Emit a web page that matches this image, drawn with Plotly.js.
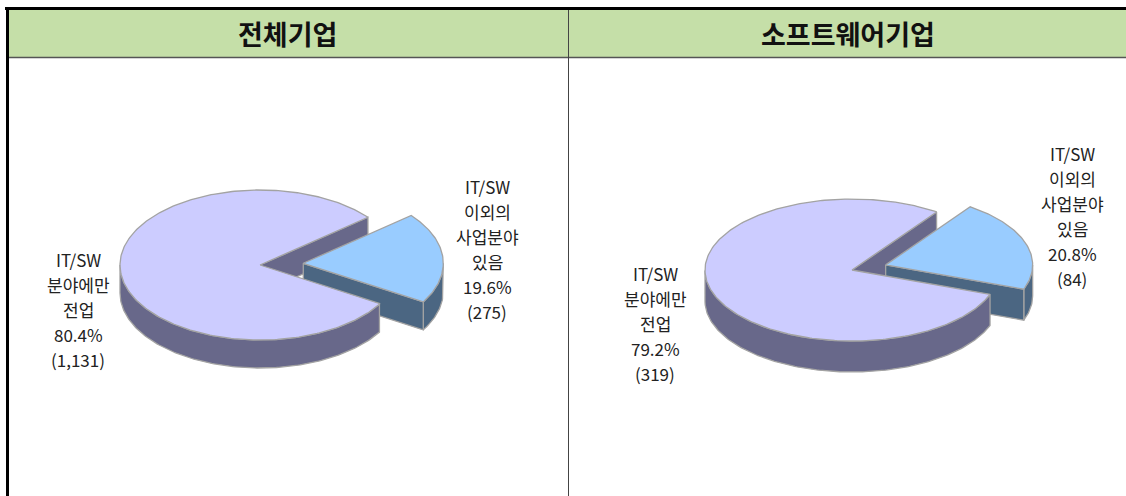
<!DOCTYPE html>
<html>
<head>
<meta charset="utf-8">
<script src="https://cdn.plot.ly/plotly-3.0.1.min.js"></script>
<style>html,body{margin:0;padding:0;background:#fff;}#chart{width:1126px;height:496px;}</style>
</head>
<body>
<div id="chart"></div>
<script>
// ---------- DATA ----------
const panelTitles = ["전체기업", "소프트웨어기업"];
const categories = ["IT/SW<br>분야에만<br>전업", "IT/SW<br>이외의<br>사업분야<br>있음"];
const totalPercents = [80.4, 19.6];
const totalCounts = ["1,131", "275"];
const swPercents = [79.2, 20.8];
const swCounts = ["319", "84"];

// ---------- STYLE / LAYOUT ----------
const W = 1126, H = 496;
const topColors = ["#ccccff", "#99ccff"];
const sideColors = ["#68688a", "#4b6682"];
const edgeColor = "#a3a3a3";
const labelFont = {family: "'Noto Sans CJK KR', 'Noto Sans', sans-serif", size: 17, color: "#222222"};

const pies = [
  {values: totalPercents, counts: totalCounts, cx: 260, cy: 265, rx: 140, ry: 75, depth: 28, start: -31, pull: 0.31,
   labelPos: [{x: 78, y: 259}, {x: 487, y: 186}], titleX: 287},
  {values: swPercents, counts: swCounts, cx: 852, cy: 270, rx: 147, ry: 71, depth: 31, start: -20, pull: 0.24,
   labelPos: [{x: 655, y: 273}, {x: 1072, y: 153}], titleX: 848}
];
const lineStep = 25;

const traces = [];
const annotations = [];
const rad = d => d * Math.PI / 180;

function pt(c, a, dy) { return [c.x + c.rx * Math.cos(rad(a)), c.y - c.ry * Math.sin(rad(a)) + (dy || 0)]; }
function poly(points, fill) {
  const xs = points.map(p => p[0]); const ys = points.map(p => p[1]);
  xs.push(xs[0]); ys.push(ys[0]);
  traces.push({type: "scatter", mode: "lines", x: xs, y: ys, fill: "toself", fillcolor: fill,
    line: {color: edgeColor, width: 1.3}, hoverinfo: "skip", showlegend: false});
}
function arcPts(c, a1, a2, dy) {
  const pts = []; const n = Math.max(2, Math.ceil(Math.abs(a2 - a1)));
  for (let i = 0; i <= n; i++) pts.push(pt(c, a1 + (a2 - a1) * i / n, dy));
  return pts;
}
function frontRuns(a1, a2) {
  const runs = []; let cur = null;
  for (let a = a1; a <= a2 + 1e-9; a += 0.5) {
    const front = Math.sin(rad(a)) <= 1e-9;
    if (front) { if (!cur) cur = [a, a]; else cur[1] = a; }
    else if (cur) { runs.push(cur); cur = null; }
  }
  if (cur) runs.push(cur);
  return runs;
}
function sideFace(c, a1, a2, d, fill) {
  frontRuns(a1, a2).forEach(r => {
    const up = arcPts(c, r[0], r[1], 0);
    const down = arcPts(c, r[0], r[1], d).reverse();
    poly(up.concat(down), fill);
  });
}
function wallFace(c, a, d, fill) {
  const ap = [c.x, c.y]; const p = pt(c, a, 0);
  poly([ap, p, [p[0], p[1] + d], [ap[0], ap[1] + d]], fill);
}
function topFace(c, a1, a2, fill) { poly([[c.x, c.y]].concat(arcPts(c, a1, a2, 0)), fill); }

pies.forEach((pie, k) => {
  const total = pie.values.reduce((s, v) => s + v, 0);
  const sweepSmall = pie.values[1] / total * 360;
  const s = pie.start, e = s + sweepSmall, mid = (s + e) / 2;
  const cBig = {x: pie.cx, y: pie.cy, rx: pie.rx, ry: pie.ry};
  const cSmall = {x: pie.cx + pie.pull * pie.rx * Math.cos(rad(mid)), y: pie.cy - pie.pull * pie.ry * Math.sin(rad(mid)), rx: pie.rx, ry: pie.ry};
  wallFace(cBig, e, pie.depth, sideColors[0]);
  sideFace(cSmall, s, e, pie.depth, sideColors[1]);
  wallFace(cSmall, s, pie.depth, sideColors[1]);
  topFace(cSmall, s, e, topColors[1]);
  sideFace(cBig, e, s + 360, pie.depth, sideColors[0]);
  topFace(cBig, e, s + 360, topColors[0]);

  [0, 1].forEach(i => {
    const lines = categories[i].split("<br>").concat([pie.values[i].toFixed(1) + "%", "(" + pie.counts[i] + ")"]);
    lines.forEach((t, j) => annotations.push({x: pie.labelPos[i].x, y: pie.labelPos[i].y + j * lineStep, xref: "x", yref: "y",
      text: t, showarrow: false, font: labelFont, xanchor: "center", yanchor: "middle"}));
  });
  annotations.push({x: pie.titleX, y: 33, xref: "x", yref: "y", text: "<b>" + panelTitles[k] + "</b>", showarrow: false,
    font: {family: "'Noto Sans CJK KR', sans-serif", size: 27, color: "#111111"}, xanchor: "center", yanchor: "middle"});
});

const shapes = [
  {type: "rect", xref: "x", yref: "y", x0: 8, x1: W, y0: 9, y1: 57, fillcolor: "#c5dfa8", line: {width: 0}, layer: "below"},
  {type: "line", xref: "x", yref: "y", x0: 5, x1: W, y0: 8.5, y1: 8.5, line: {color: "#000", width: 3}},
  {type: "line", xref: "x", yref: "y", x0: 7.5, x1: 7.5, y0: 7, y1: H, line: {color: "#000", width: 3}},
  {type: "line", xref: "x", yref: "y", x0: 9, x1: W, y0: 57.5, y1: 57.5, line: {color: "#555", width: 1.5}},
  {type: "line", xref: "x", yref: "y", x0: 568.5, x1: 568.5, y0: 10, y1: H, line: {color: "#444", width: 1}}
];

const layout = {
  width: W, height: H, margin: {l: 0, r: 0, t: 0, b: 0},
  paper_bgcolor: "#fff", plot_bgcolor: "#fff", showlegend: false,
  xaxis: {range: [0, W], visible: false, fixedrange: true},
  yaxis: {range: [H, 0], visible: false, fixedrange: true},
  shapes: shapes, annotations: annotations
};
Plotly.newPlot("chart", traces, layout, {staticPlot: true, displayModeBar: false});
</script>
</body>
</html>
